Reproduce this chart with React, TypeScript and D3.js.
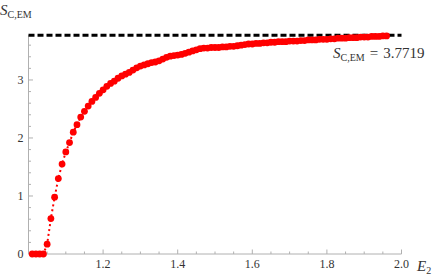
import React from "react";
import * as d3 from "d3";

const energies: number[] = [
  1.01, 1.02, 1.03, 1.04, 1.05, 1.06, 1.07, 1.08, 1.09, 1.1,
  1.11, 1.12, 1.13, 1.14, 1.15, 1.16, 1.17, 1.18, 1.19, 1.2,
  1.21, 1.22, 1.23, 1.24, 1.25, 1.26, 1.27, 1.28, 1.29, 1.3,
  1.31, 1.32, 1.33, 1.34, 1.35, 1.36, 1.37, 1.38, 1.39, 1.4,
  1.41, 1.42, 1.43, 1.44, 1.45, 1.46, 1.47, 1.48, 1.49, 1.5,
  1.51, 1.52, 1.53, 1.54, 1.55, 1.56, 1.57, 1.58, 1.59, 1.6,
  1.61, 1.62, 1.63, 1.64, 1.65, 1.66, 1.67, 1.68, 1.69, 1.7,
  1.71, 1.72, 1.73, 1.74, 1.75, 1.76, 1.77, 1.78, 1.79, 1.8,
  1.81, 1.82, 1.83, 1.84, 1.85, 1.86, 1.87, 1.88, 1.89, 1.9,
  1.91, 1.92, 1.93, 1.94, 1.95, 1.96,
];

const entropy: number[] = [
  0, 0, 0, 0, 0.17, 0.61, 0.98, 1.3, 1.55, 1.76,
  1.92, 2.1, 2.23, 2.36, 2.46, 2.55, 2.63, 2.7, 2.77, 2.83,
  2.89, 2.94, 2.98, 3.03, 3.07, 3.1, 3.13, 3.17, 3.21, 3.24,
  3.26, 3.28, 3.3, 3.31, 3.33, 3.36, 3.39, 3.41, 3.42, 3.43,
  3.44, 3.46, 3.48, 3.5, 3.52, 3.54, 3.55, 3.55, 3.56, 3.56,
  3.56, 3.57, 3.57, 3.58, 3.58, 3.59, 3.6, 3.61, 3.62, 3.62,
  3.63, 3.63, 3.64, 3.64, 3.65, 3.65, 3.66, 3.66, 3.66, 3.67,
  3.67, 3.67, 3.68, 3.68, 3.69, 3.69, 3.69, 3.7, 3.7, 3.7,
  3.71, 3.71, 3.72, 3.72, 3.72, 3.73, 3.73, 3.73, 3.74, 3.74,
  3.74, 3.75, 3.75, 3.75, 3.76, 3.76,
];

const limitValue = 3.7719;
const xMajorTicks: number[] = [1.2, 1.4, 1.6, 1.8, 2.0];
const yMajorTicks: number[] = [0, 1, 2, 3];

const W = 436;
const H = 277;

export default function App() {
  const x = d3.scaleLinear().domain([1.0, 2.0]).range([28.5, 401.5]);
  const y = d3.scaleLinear().domain([0, limitValue]).range([254, 35.2]);

  const xMinor = d3.range(1.0, 2.0001, 0.05).map((v) => +v.toFixed(2));
  const yMinor = d3.range(0, 3.78, 0.2).map((v) => +v.toFixed(2));

  const pts = energies.map((e, i) => [e, entropy[i]] as [number, number]);
  const line = d3
    .line<[number, number]>()
    .x((d) => x(d[0]))
    .y((d) => y(d[1]));

  const axisColor = "#b0b0b0";
  const textColor = "#333";
  const serif = { fontFamily: '"Liberation Serif", "DejaVu Serif", serif' };

  const x0 = x(1.0);
  const y0 = y(0);

  return (
    <svg
      width={W}
      height={H}
      style={{ position: "absolute", left: 0, top: 0, background: "#fff" }}
    >
      {/* axes */}
      <line x1={x0} x2={x(2.0)} y1={y0} y2={y0} stroke={axisColor} strokeWidth={1} />
      <line x1={x0} x2={x0} y1={y0} y2={y(limitValue)} stroke={axisColor} strokeWidth={1} />
      {/* x ticks */}
      {xMinor.map((v) => {
        const major = xMajorTicks.some((m) => Math.abs(m - v) < 1e-6);
        return (
          <line
            key={"xt" + v}
            x1={x(v)}
            x2={x(v)}
            y1={y0}
            y2={y0 - (major ? 4.5 : 2.5)}
            stroke={axisColor}
            strokeWidth={1}
          />
        );
      })}
      {xMajorTicks.map((v) => (
        <text
          key={"xl" + v}
          x={x(v)}
          y={y0 + 14}
          textAnchor="middle"
          fontSize={12}
          fill={textColor}
          style={serif}
        >
          {v.toFixed(1)}
        </text>
      ))}
      {/* y ticks */}
      {yMinor.map((v) => {
        const major = yMajorTicks.some((m) => Math.abs(m - v) < 1e-6);
        return (
          <line
            key={"yt" + v}
            x1={x0}
            x2={x0 + (major ? 4.5 : 2.5)}
            y1={y(v)}
            y2={y(v)}
            stroke={axisColor}
            strokeWidth={1}
          />
        );
      })}
      {yMajorTicks.map((v) => (
        <text
          key={"yl" + v}
          x={x0 - 5}
          y={y(v) + 4}
          textAnchor="end"
          fontSize={12}
          fill={textColor}
          style={serif}
        >
          {v}
        </text>
      ))}
      {/* limit dashed line */}
      <line
        x1={x0}
        x2={x(2.0)}
        y1={y(limitValue)}
        y2={y(limitValue)}
        stroke="#000"
        strokeWidth={3}
        strokeDasharray="6,3"
      />
      {/* data */}
      <path
        d={line(pts) || ""}
        fill="none"
        stroke="#ff0000"
        strokeWidth={2}
        strokeDasharray="2,3"
      />
      {pts.map((d, i) => (
        <circle key={"p" + i} cx={x(d[0])} cy={y(d[1])} r={3.4} fill="#ff0000" />
      ))}
      {/* axis labels */}
      <text x={0} y={15} fontSize={15} fill={textColor} style={serif}>
        <tspan fontStyle="italic">S</tspan>
        <tspan fontSize={10} dy={3}>C,EM</tspan>
      </text>
      <text x={417} y={271} fontSize={15} fill={textColor} style={serif}>
        <tspan fontStyle="italic">E</tspan>
        <tspan fontSize={10} dy={3}>2</tspan>
      </text>
      {/* annotation */}
      <text x={333} y={58} fontSize={15} fill={textColor} style={serif}>
        <tspan fontStyle="italic">S</tspan>
        <tspan fontSize={10} dy={3}>C,EM</tspan>
        <tspan dy={-3} dx={5}>=</tspan>
        <tspan dx={5}>{String(limitValue)}</tspan>
      </text>
    </svg>
  );
}
